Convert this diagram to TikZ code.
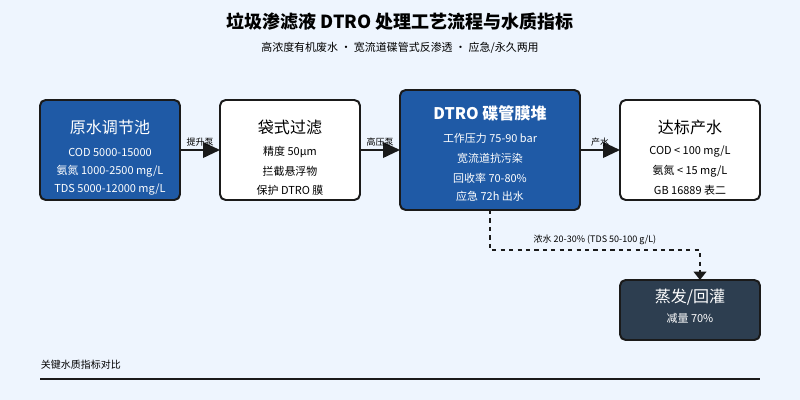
\documentclass[tikz,border=0pt]{standalone}
\usepackage{fontspec}
\setmainfont{Noto Sans CJK SC}
\usetikzlibrary{arrows.meta}
\definecolor{bgblue}{HTML}{EEF5FE}
\definecolor{procblue}{HTML}{1F5AA6}
\definecolor{darkbox}{HTML}{2D3E50}
\definecolor{edgeink}{HTML}{1A1A1A}
\tikzset{
  procbox/.style={draw=edgeink, line width=1.4pt, rounded corners=4pt, fill=white, text=black},
  bluebox/.style={procbox, fill=procblue, text=white},
  darkproc/.style={procbox, fill=darkbox, text=white},
  flow/.style={-{Triangle[length=12pt,width=11pt]}, line width=1.4pt, draw=edgeink},
  flowlabel/.style={font=\fontsize{6.4}{7}\selectfont, above, inner sep=2pt}
}
\newcommand{\boxtitle}[1]{{\fontsize{11.4}{13}\selectfont #1}}
\newcommand{\boxline}[1]{{\fontsize{7.8}{9}\selectfont #1}}
\begin{document}
\begin{tikzpicture}[x=0.025cm,y=-0.025cm]

  \fill[bgblue] (0,0) rectangle (800,400);
  \useasboundingbox (0,0) rectangle (800,400);

  % titles
  \node (title) at (400,22) {\fontsize{12.8}{14}\selectfont\bfseries 垃圾渗滤液 DTRO 处理工艺流程与水质指标};
  \node (subtitle) at (400,48) {\fontsize{7.8}{9}\selectfont 高浓度有机废水 · 宽流道碟管式反渗透 · 应急/永久两用};

  % process boxes
  \draw[bluebox] (40,100) rectangle (180,200);
  \node[text=white] (raw) at (110,150) {};
  \node[text=white] at (110,127) {\boxtitle{原水调节池}};
  \node[text=white] at (110,152) {\boxline{COD 5000-15000}};
  \node[text=white] at (110,171) {\boxline{氨氮 1000-2500 mg/L}};
  \node[text=white] at (110,190) {\boxline{TDS 5000-12000 mg/L}};

  \draw[procbox] (220,100) rectangle (360,200);
  \node (bag) at (290,150) {};
  \node at (290,127) {\boxtitle{袋式过滤}};
  \node at (290,152) {\boxline{精度 50µm}};
  \node at (290,171) {\boxline{拦截悬浮物}};
  \node at (290,190) {\boxline{保护 DTRO 膜}};

  \draw[bluebox] (400,90) rectangle (580,210);
  \node (dtro) at (490,150) {};
  \node[text=white] at (490,113) {\boxtitle{\bfseries DTRO 碟管膜堆}};
  \node[text=white] at (490,138) {\boxline{工作压力 75-90 bar}};
  \node[text=white] at (490,158) {\boxline{宽流道抗污染}};
  \node[text=white] at (490,178) {\boxline{回收率 70-80\%}};
  \node[text=white] at (490,196) {\boxline{应急 72h 出水}};

  \draw[procbox] (620,100) rectangle (760,200);
  \node (outlet) at (690,150) {};
  \node at (690,127) {\boxtitle{达标产水}};
  \node at (690,152) {\boxline{COD < 100 mg/L}};
  \node at (690,171) {\boxline{氨氮 < 15 mg/L}};
  \node at (690,190) {\boxline{GB 16889 表二}};

  \draw[darkproc] (620,280) rectangle (760,340);
  \node (evap) at (690,310) {};
  \node[text=white] at (690,297) {\boxtitle{蒸发/回灌}};
  \node[text=white] at (690,318) {\boxline{减量 70\%}};

  % connectors
  \coordinate (rawE) at (180,150);  \coordinate (bagW) at (220,150);
  \coordinate (bagE) at (360,150);  \coordinate (dtroW) at (400,150);
  \coordinate (dtroE) at (580,150); \coordinate (outW) at (620,150);
  \coordinate (dtroS) at (490,210); \coordinate (evapN) at (700,280);

  \draw[flow] (rawE) -- node[flowlabel] {提升泵} (bagW);
  \draw[flow] (bagE) -- node[flowlabel] {高压泵} (dtroW);
  \draw[flow] (dtroE) -- node[flowlabel] {产水} (outW);
  \draw[flow, dashed, -{Triangle[length=6pt,width=9pt]}] (dtroS) |- (700,250)
    node[pos=0.75, above, font=\fontsize{6.4}{7}\selectfont] {浓水 20-30\% (TDS 50-100 g/L)} -- (evapN);

  % footer
  \node[anchor=west] (footer) at (36,365) {\fontsize{7.1}{8}\selectfont 关键水质指标对比};
  \draw[line width=1.6pt, edgeink] (40,379) -- (760,379);

\end{tikzpicture}
\end{document}
